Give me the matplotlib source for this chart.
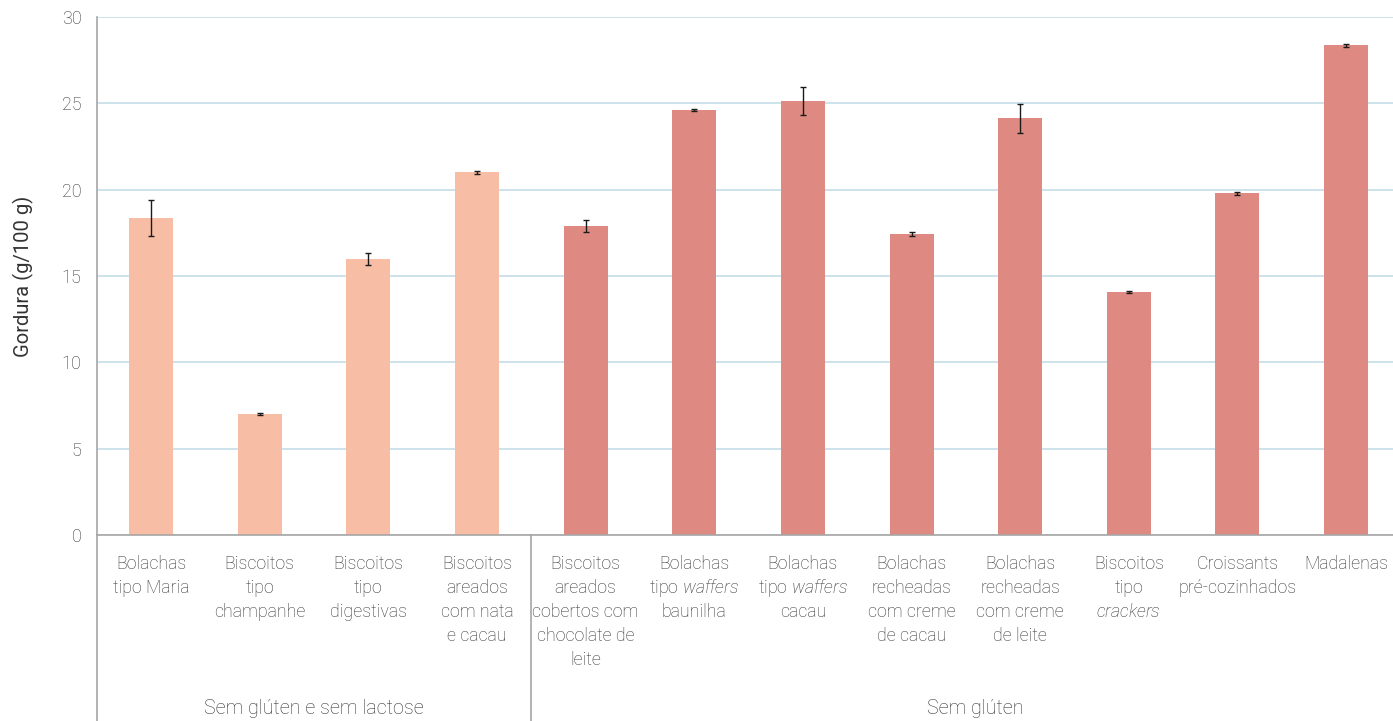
import matplotlib
matplotlib.use("Agg")
import matplotlib.pyplot as plt
import matplotlib.transforms as mtransforms
from matplotlib.lines import Line2D

plt.rcParams['font.family'] = ['Roboto', 'DejaVu Sans']
plt.rcParams['font.weight'] = 'light'
plt.rcParams['mathtext.fontset'] = 'custom'
plt.rcParams['mathtext.rm'] = 'Roboto:light'
plt.rcParams['mathtext.it'] = 'Roboto:italic:light'

categories = [
    "Bolachas\ntipo Maria",
    "Biscoitos\ntipo\nchampanhe",
    "Biscoitos\ntipo\ndigestivas",
    "Biscoitos\nareados\ncom nata\ne cacau",
    "Biscoitos\nareados\ncobertos com\nchocolate de\nleite",
    "Bolachas\ntipo $\\mathit{waffers}$\nbaunilha",
    "Bolachas\ntipo $\\mathit{waffers}$\ncacau",
    "Bolachas\nrecheadas\ncom creme\nde cacau",
    "Bolachas\nrecheadas\ncom creme\nde leite",
    "Biscoitos\ntipo\n$\\mathit{crackers}$",
    "Croissants\npré-cozinhados",
    "Madalenas",
]
values = [18.36, 7.0, 15.98, 21.0, 17.9, 24.62, 25.13, 17.45, 24.15, 14.07, 19.8, 28.35]
errors = [1.04, 0.05, 0.35, 0.08, 0.33, 0.08, 0.8, 0.12, 0.84, 0.08, 0.08, 0.07]
groups = ["Sem glúten e sem lactose", "Sem glúten"]
group_sizes = [4, 8]
group_colors = ["#F7BDA5", "#DE8A82"]

TXT = '#333333'
W, H = 1393, 721
AX_L, AX_R, AX_T, AX_B = 96.7, 1400.4, 17, 535
fig = plt.figure(figsize=(W / 100, H / 100), dpi=100)
ax = fig.add_axes([AX_L / W, 1 - AX_B / H, (AX_R - AX_L) / W, (AX_B - AX_T) / H])

colors = []
for c, n in zip(group_colors, group_sizes):
    colors += [c] * n
x = list(range(len(categories)))
ax.bar(x, values, width=0.405, color=colors, zorder=2)
ax.errorbar(x, values, yerr=errors, fmt='none', ecolor='#1a1a1a', elinewidth=1,
            capsize=2.2, capthick=1, zorder=3)

ax.set_xlim(-0.5, len(categories) - 0.5)
ax.set_ylim(0, 30)
ax.set_yticks(range(0, 31, 5))
ax.yaxis.grid(True, color='#C4DDE6', linewidth=1.2, zorder=0)
ax.set_axisbelow(True)
for s in ['top', 'right']:
    ax.spines[s].set_visible(False)
for s in ['bottom', 'left']:
    ax.spines[s].set_color('#A6A6A6')
    ax.spines[s].set_linewidth(1.2)
ax.tick_params(axis='y', length=0, pad=11, labelsize=13, labelcolor=TXT)
ax.set_xticks([])
ax.set_ylabel("Gordura (g/100 g)", fontsize=14.5, color=TXT, labelpad=20)

# category labels, line by line
blend = mtransforms.blended_transform_factory(ax.transData, fig.transFigure)
first_baseline = 569
line_step = 24
for xi, label in zip(x, categories):
    for i, line in enumerate(label.split("\n")):
        yb = first_baseline + i * line_step
        ax.text(xi, 1 - yb / H, line, transform=blend, ha='center', va='baseline',
                fontsize=12.8, color=TXT)

# separators extending below axis (left axis and between groups)
axis_bottom = 1 - AX_B / H
sep_positions = [-0.5, group_sizes[0] - 0.5]
for sp in sep_positions:
    ax.add_artist(Line2D([sp, sp], [0, axis_bottom], transform=blend,
                         color='#A6A6A6', lw=1.2, clip_on=False))

# group labels (second group centred slightly right, as in the original)
label_offsets = [0.0, 0.09]
start = 0
for g, n, off in zip(groups, group_sizes, label_offsets):
    center = start + (n - 1) / 2 + off
    ax.text(center, 1 - 708 / H, g, transform=blend,
            ha='center', va='center', fontsize=14.2, color=TXT)
    start += n

fig.savefig("out.png", dpi=100)
